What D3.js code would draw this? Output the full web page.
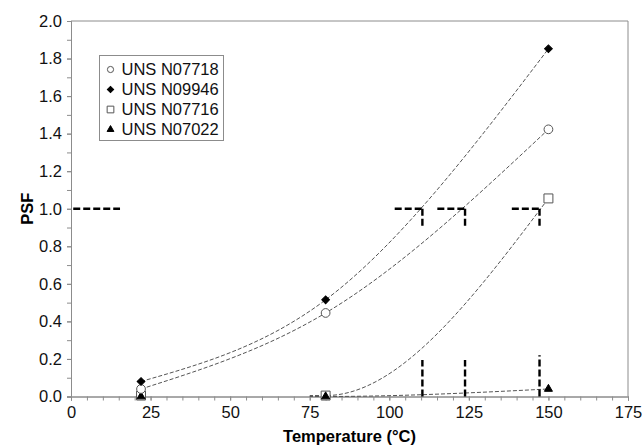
<!DOCTYPE html>
<html>
<head>
<meta charset="utf-8">
<script src="https://cdn.jsdelivr.net/npm/d3@7"></script>
<style>
  body { margin: 0; background: #fff; }
  text { font-family: "Liberation Sans", Arial, Helvetica, sans-serif; }
</style>
</head>
<body>
<div id="chart"></div>
<script>
// temperatures of the test points (°C)
var temps = [22, 80, 150];

// PSF values per alloy
var n07718 = [0.04, 0.445, 1.423];
var n09946 = [0.08, 0.515, 1.852];
var n07716 = [0.005, 0.005, 1.055];
var n07022 = [0.0, 0.0, 0.04];

var seriesNames = ["UNS N07718", "UNS N09946", "UNS N07716", "UNS N07022"];
var seriesSymbols = ["circle", "diamond", "square", "triangle"];

// temperatures at which PSF reaches 1.0, and heights of their base markers
var crossTemps = [110.4, 123.8, 147.2];
var crossBase = [0.195, 0.195, 0.22];
var refLine = [0.7, 15.4]; // PSF = 1.0 reference stub near the y axis

var xTicks = [0, 25, 50, 75, 100, 125, 150, 175];
var yTicks = [0, 0.2, 0.4, 0.6, 0.8, 1.0, 1.2, 1.4, 1.6, 1.8, 2.0];

var width = 644, height = 448;
var frame = {left: 71, right: 628, top: 21, bottom: 396.5};

var svg = d3.select("#chart").append("svg")
    .attr("width", width)
    .attr("height", height);

var x = d3.scaleLinear().domain([0, 175]).range([frame.left, frame.right]);
var y = d3.scaleLinear().domain([0, 2]).range([frame.bottom, frame.top]);

var axisColor = "#8c8c8c";

// top and right border of plot area
svg.append("path")
    .attr("d", "M" + x(0) + "," + y(2) + "H" + x(175) + "V" + y(0))
    .attr("fill", "none")
    .attr("stroke", axisColor)
    .attr("stroke-width", 1);

// minor ticks
var xAxisMinor = d3.axisBottom(x).tickValues(d3.range(0, 176, 5)).tickSize(4).tickFormat("");
var yAxisMinor = d3.axisLeft(y).tickValues(d3.range(0, 21).map(function(i){ return i / 10; })).tickSize(4).tickFormat("");

var xAxis = d3.axisBottom(x).tickValues(xTicks).tickSize(4).tickPadding(6).tickFormat(d3.format("d"));
var yAxis = d3.axisLeft(y).tickValues(yTicks).tickSize(4).tickPadding(5).tickFormat(d3.format(".1f"));

[xAxisMinor, xAxis].forEach(function(ax){
    svg.append("g")
        .attr("transform", "translate(0," + y(0) + ")")
        .call(ax);
});
[yAxisMinor, yAxis].forEach(function(ax){
    svg.append("g")
        .attr("transform", "translate(" + x(0) + ",0)")
        .call(ax);
});

svg.selectAll(".domain, .tick line").attr("stroke", axisColor);
svg.selectAll(".tick text")
    .attr("fill", "#111")
    .style("font-size", "16.5px");

// axis titles
svg.append("text")
    .attr("x", (x(0) + x(175)) / 2)
    .attr("y", 442)
    .attr("text-anchor", "middle")
    .style("font-size", "16.5px")
    .style("font-weight", "bold")
    .text("Temperature (°C)");

svg.append("text")
    .attr("transform", "translate(33," + y(1) + ") rotate(-90)")
    .attr("text-anchor", "middle")
    .style("font-size", "16.5px")
    .style("font-weight", "bold")
    .text("PSF");

// trend curves
svg.append("clipPath").attr("id", "lateClip")
    .append("rect")
    .attr("x", x(75)).attr("y", 0)
    .attr("width", x(175) - x(75)).attr("height", height);

var line = d3.line()
    .x(function(d){ return x(d[0]); })
    .y(function(d){ return y(d[1]); })
    .curve(d3.curveMonotoneX);

var allSeries = [n07718, n09946, n07716, n07022];

allSeries.forEach(function(vals, i){
    var pts = temps.map(function(t, j){ return [t, vals[j]]; });
    var p = svg.append("path")
        .attr("d", line(pts))
        .attr("fill", "none")
        .attr("stroke", "#555")
        .attr("stroke-width", 1)
        .attr("stroke-dasharray", "4,2");
    if(i >= 2){
        p.attr("clip-path", "url(#lateClip)");
    }
});

// PSF = 1 markers
var markStyle = function(sel){
    return sel.attr("stroke", "#000")
        .attr("stroke-width", 2.4)
        .attr("stroke-dasharray", "7,3")
        .attr("fill", "none");
};

markStyle(svg.append("line")
    .attr("x1", x(refLine[0])).attr("x2", x(refLine[1]))
    .attr("y1", y(1)).attr("y2", y(1)));

crossTemps.forEach(function(t, i){
    markStyle(svg.append("line")
        .attr("x1", x(t - 8.7)).attr("x2", x(t))
        .attr("y1", y(1)).attr("y2", y(1)));
    markStyle(svg.append("line")
        .attr("x1", x(t)).attr("x2", x(t))
        .attr("y1", y(1)).attr("y2", y(0.9)));
    markStyle(svg.append("line")
        .attr("x1", x(t)).attr("x2", x(t))
        .attr("y1", y(0)).attr("y2", y(crossBase[i])));
});

// point symbols (diamond = square turned 45°)
var symbolDefs = {
    circle:   {type: d3.symbolCircle,   fill: "#fff", stroke: "#555", rot: 0},
    diamond:  {type: d3.symbolSquare,   fill: "#000", stroke: "#000", rot: 45},
    square:   {type: d3.symbolSquare,   fill: "#fff", stroke: "#555", rot: 0},
    triangle: {type: d3.symbolTriangle, fill: "#000", stroke: "#000", rot: 0}
};
var plotSizes = {circle: 60, diamond: 30, square: 80, triangle: 28};
var legendSizes = {circle: 30, diamond: 20, square: 45, triangle: 20};

function drawSymbol(g, name, cx, cy, size){
    var s = symbolDefs[name];
    g.append("path")
        .attr("d", d3.symbol().type(s.type).size(size)())
        .attr("transform", "translate(" + cx + "," + cy + ") rotate(" + s.rot + ")")
        .attr("fill", s.fill)
        .attr("stroke", s.stroke)
        .attr("stroke-width", 1);
}

// draw in order: square under triangle, circle under diamond
[2, 3, 0, 1].forEach(function(i){
    var g = svg.append("g");
    allSeries[i].forEach(function(v, j){
        drawSymbol(g, seriesSymbols[i], x(temps[j]), y(v), plotSizes[seriesSymbols[i]]);
    });
});

// legend
var legend = svg.append("g").attr("transform", "translate(99.5,55.5)");
legend.append("rect")
    .attr("width", 124)
    .attr("height", 85)
    .attr("fill", "#fff")
    .attr("stroke", axisColor)
    .attr("stroke-width", 1);

seriesNames.forEach(function(name, i){
    var cy = 14 + i * 20;
    drawSymbol(legend, seriesSymbols[i], 11, cy, legendSizes[seriesSymbols[i]]);
    legend.append("text")
        .attr("x", 22)
        .attr("y", cy)
        .attr("dy", "0.36em")
        .style("font-size", "16.5px")
        .attr("fill", "#111")
        .text(name);
});
</script>
</body>
</html>
